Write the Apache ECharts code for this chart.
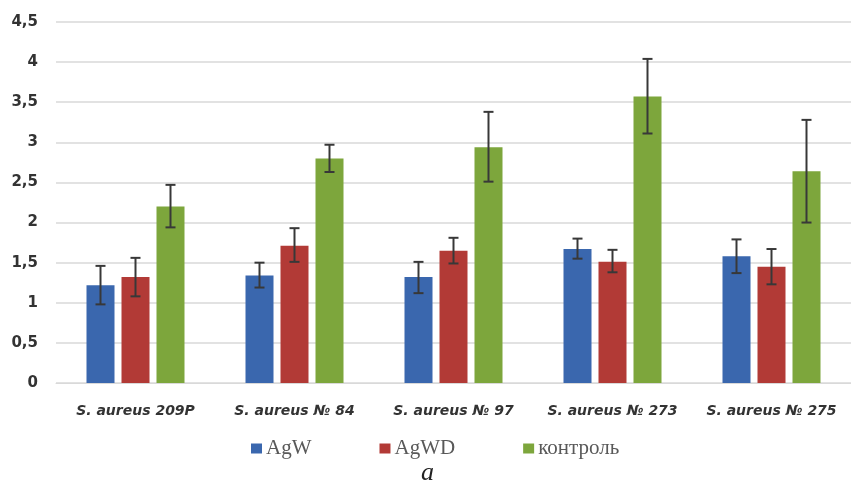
<!DOCTYPE html>
<html>
<head>
<meta charset="utf-8">
<script src="https://cdn.jsdelivr.net/npm/echarts@6/dist/echarts.min.js"></script>
<style>html,body{margin:0;padding:0;background:#fff}#c{width:851px;height:484px}</style>
</head>
<body>
<div id="c"></div>
<script>
var categories = ['S. aureus 209P', 'S. aureus № 84', 'S. aureus № 97', 'S. aureus № 273', 'S. aureus № 275'];
var seriesNames = ['AgW', 'AgWD', 'контроль'];
var agW = [1.22, 1.34, 1.32, 1.67, 1.58];
var agWD = [1.32, 1.71, 1.65, 1.51, 1.45];
var control = [2.20, 2.80, 2.94, 3.57, 2.64];
var agWLow = [0.98, 1.19, 1.12, 1.55, 1.37];
var agWHigh = [1.46, 1.50, 1.51, 1.80, 1.79];
var agWDLow = [1.08, 1.51, 1.49, 1.38, 1.23];
var agWDHigh = [1.56, 1.93, 1.81, 1.66, 1.67];
var controlLow = [1.94, 2.63, 2.51, 3.11, 2.00];
var controlHigh = [2.47, 2.97, 3.38, 4.04, 3.28];
var yTicks = [0, 0.5, 1, 1.5, 2, 2.5, 3, 3.5, 4, 4.5];

var colors = ['#3A67AE', '#B23A36', '#7DA63C'];
var BAR_W = 28, BAR_GAP = 7;

function errSeries(idx, low, high) {
  var data = low.map(function (l, i) { return [i, l, high[i]]; });
  return {
    type: 'custom',
    name: seriesNames[idx] + '_err',
    z: 10,
    silent: true,
    data: data,
    renderItem: function (params, api) {
      var off = (idx - 1) * (BAR_W + BAR_GAP);
      var lo = api.coord([api.value(0), api.value(1)]);
      var hi = api.coord([api.value(0), api.value(2)]);
      var x = lo[0] + off;
      var cap = 5;
      var st = { stroke: '#383838', lineWidth: 2 };
      return {
        type: 'group',
        children: [
          { type: 'line', shape: { x1: x, y1: lo[1], x2: x, y2: hi[1] }, style: st },
          { type: 'line', shape: { x1: x - cap, y1: lo[1], x2: x + cap, y2: lo[1] }, style: st },
          { type: 'line', shape: { x1: x - cap, y1: hi[1], x2: x + cap, y2: hi[1] }, style: st }
        ]
      };
    },
    encode: { x: 0, y: [1, 2] }
  };
}

var chart = echarts.init(document.getElementById('c'), null, { renderer: 'canvas' });
chart.setOption({
  animation: false,
  backgroundColor: '#fff',
  color: colors,
  grid: { left: 56, right: -5, top: 22, bottom: 101 },
  legend: {
    data: seriesNames,
    top: 433,
    left: 246,
    itemWidth: 11,
    itemHeight: 10,
    itemGap: 68,
    icon: 'rect',
    textStyle: { fontFamily: 'Liberation Serif', fontSize: 21, color: '#595959', padding: [0, 0, 0, -1] }
  },
  graphic: [{
    type: 'text',
    left: 421,
    top: 460,
    style: { text: 'а', fontFamily: 'Liberation Serif', fontStyle: 'italic', fontSize: 26, fill: '#222' }
  }],
  xAxis: {
    type: 'category',
    data: categories,
    axisLine: { show: true, lineStyle: { color: '#d9d9d9' } },
    axisTick: { show: false },
    axisLabel: {
      interval: 0,
      margin: 21,
      fontFamily: 'DejaVu Sans',
      fontStyle: 'italic',
      fontWeight: 'bold',
      fontSize: 14,
      color: '#333'
    }
  },
  yAxis: {
    type: 'value',
    min: yTicks[0],
    max: yTicks[yTicks.length - 1],
    interval: 0.5,
    axisLine: { show: false },
    axisTick: { show: false },
    splitLine: { lineStyle: { color: '#d9d9d9', width: 1.5 } },
    axisLabel: {
      margin: 18,
      fontFamily: 'DejaVu Sans',
      fontWeight: 'bold',
      fontSize: 15,
      color: '#333',
      formatter: function (v) { return String(v).replace('.', ','); }
    }
  },
  series: [
    { name: seriesNames[0], type: 'bar', data: agW, barWidth: BAR_W, barGap: '25%', itemStyle: { color: colors[0] } },
    { name: seriesNames[1], type: 'bar', data: agWD, barWidth: BAR_W, barGap: '25%', itemStyle: { color: colors[1] } },
    { name: seriesNames[2], type: 'bar', data: control, barWidth: BAR_W, barGap: '25%', itemStyle: { color: colors[2] } },
    errSeries(0, agWLow, agWHigh),
    errSeries(1, agWDLow, agWDHigh),
    errSeries(2, controlLow, controlHigh)
  ]
});
</script>
</body>
</html>
